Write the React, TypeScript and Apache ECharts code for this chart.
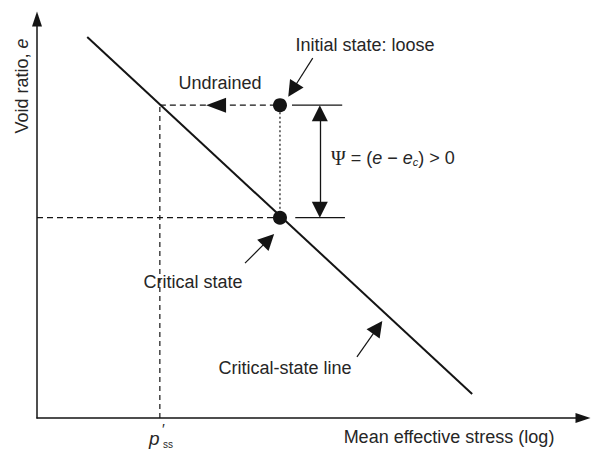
import React, { useEffect, useRef } from "react";
import * as echarts from "echarts";

// Critical-state line endpoints (x: log mean effective stress, y: void ratio), arbitrary units
const cslX = [0.92, 7.97];
const cslY = [9.55, 0.6];
// Initial state (loose) and critical state
const stateX = [4.45, 4.45];
const stateY = [7.84, 5.02];
// p'ss on the x axis
const pssX = 2.25;
// undrained arrow head position along the dashed path
const undrainedHeadX = 3.28;
// Psi double arrow
const psiX = 5.18;
// short reference ticks at the ends of the Psi arrow
const tickStartX = [4.67, 4.73];
const tickEndX = [5.59, 5.64];
// annotation pointer arrows: from -> to
const pointerFromX = [5.05, 3.81, 5.86];
const pointerFromY = [9.02, 3.88, 1.53];
const pointerToX = [4.68, 4.24, 6.24];
const pointerToY = [8.22, 4.47, 2.27];

const FONT = "Liberation Sans, Arial, sans-serif";
const TXT = "#262626";
const INK = "#141414";
const FS = 18;

export default function App() {
  const ref = useRef<HTMLDivElement>(null);
  useEffect(() => {
    if (!ref.current) return;
    const chart = echarts.init(ref.current, null, { renderer: "svg" });
    const seg = (a: number[], b: number[]) => [a, b];
    const lineSeries = (name: string, data: number[][], type: any, width: number, z = 2) => ({
      name,
      type: "line",
      data,
      showSymbol: false,
      symbol: "none",
      silent: true,
      z,
      lineStyle: { color: INK, width, type },
    });
    const option: any = {
      animation: false,
      backgroundColor: "#ffffff",
      grid: { left: 37, right: 9, top: 19, bottom: 31 },
      xAxis: {
        type: "value",
        min: 0,
        max: 10,
        axisLine: {
          show: true,
          symbol: ["none", "triangle"],
          symbolSize: [10, 15],
          lineStyle: { color: INK, width: 1.5 },
        },
        axisTick: { show: false },
        axisLabel: { show: false },
        splitLine: { show: false },
      },
      yAxis: {
        type: "value",
        min: 0,
        max: 10,
        axisLine: {
          show: true,
          symbol: ["none", "triangle"],
          symbolSize: [10, 15],
          lineStyle: { color: INK, width: 1.5 },
        },
        axisTick: { show: false },
        axisLabel: { show: false },
        splitLine: { show: false },
      },
      series: [
        lineSeries("Critical-state line", seg([cslX[0], cslY[0]], [cslX[1], cslY[1]]), "solid", 2, 3),
        lineSeries("Undrained path", seg([pssX, stateY[0]], [stateX[0], stateY[0]]), [6, 4], 1.2),
        lineSeries("p'ss drop", seg([pssX, 0], [pssX, stateY[0]]), [5, 4], 1.2),
        lineSeries("e_c level", seg([0, stateY[1]], [stateX[1], stateY[1]]), [6, 4], 1.2),
        lineSeries("state link", seg([stateX[0], stateY[1]], [stateX[0], stateY[0]]), [2, 2.5], 1.2),
        lineSeries("top tick", seg([tickStartX[0], stateY[0]], [tickEndX[0], stateY[0]]), "solid", 1.3),
        lineSeries("bottom tick", seg([tickStartX[1], stateY[1]], [tickEndX[1], stateY[1]]), "solid", 1.3),
        {
          name: "Psi",
          type: "lines",
          coordinateSystem: "cartesian2d",
          silent: true,
          symbol: ["triangle", "triangle"],
          symbolSize: 16,
          lineStyle: { color: INK, width: 1.3, opacity: 1, curveness: 0 },
          data: [{ coords: [[psiX, stateY[0] - 0.2], [psiX, stateY[1] + 0.2]] }],
        },
        {
          name: "Pointers",
          type: "lines",
          coordinateSystem: "cartesian2d",
          silent: true,
          symbol: ["none", "triangle"],
          symbolSize: 16,
          lineStyle: { color: INK, width: 1.2, opacity: 1, curveness: 0 },
          data: pointerFromX.map((x, i) => ({
            coords: [[x, pointerFromY[i]], [pointerToX[i], pointerToY[i]]],
          })),
        },
        {
          name: "Undrained head",
          type: "scatter",
          silent: true,
          symbol: "triangle",
          symbolRotate: 90,
          symbolSize: [15, 20],
          itemStyle: { color: INK, opacity: 1 },
          z: 4,
          data: [[undrainedHeadX, stateY[0]]],
        },
        {
          name: "States",
          type: "scatter",
          silent: true,
          symbolSize: 14,
          itemStyle: { color: INK, opacity: 1 },
          z: 5,
          data: stateX.map((x, i) => [x, stateY[i]]),
        },
      ],
      graphic: [
        {
          type: "text",
          x: 22,
          y: 86,
          rotation: Math.PI / 2,
          style: {
            text: "Void ratio, {i|e}",
            font: `${FS}px ${FONT}`,
            fill: TXT,
            align: "center",
            verticalAlign: "middle",
            rich: { i: { fontStyle: "italic", fontSize: FS, fontFamily: FONT, fill: TXT } },
          },
        },
        {
          type: "text",
          x: 365,
          y: 45,
          style: { text: "Initial state: loose", font: `${FS}px ${FONT}`, fill: TXT, align: "center", verticalAlign: "middle" },
        },
        {
          type: "text",
          x: 220,
          y: 83,
          style: { text: "Undrained", font: `${FS}px ${FONT}`, fill: TXT, align: "center", verticalAlign: "middle" },
        },
        {
          type: "text",
          x: 193,
          y: 282,
          style: { text: "Critical state", font: `${FS}px ${FONT}`, fill: TXT, align: "center", verticalAlign: "middle" },
        },
        {
          type: "text",
          x: 285,
          y: 368,
          style: { text: "Critical-state line", font: `${FS}px ${FONT}`, fill: TXT, align: "center", verticalAlign: "middle" },
        },
        {
          type: "text",
          x: 449,
          y: 437,
          style: { text: "Mean effective stress (log)", font: `${FS}px ${FONT}`, fill: TXT, align: "center", verticalAlign: "middle" },
        },
        {
          type: "text",
          x: 331,
          y: 158,
          style: {
            text: "{s|Ψ} = ({i|e} − {i|e}{c|c}) > 0",
            font: `${FS}px ${FONT}`,
            fill: TXT,
            align: "left",
            verticalAlign: "middle",
            rich: {
              s: { fontFamily: "Liberation Serif, serif", fontSize: 20, fill: TXT },
              i: { fontStyle: "italic", fontFamily: FONT, fontSize: FS, fill: TXT },
              c: { fontStyle: "italic", fontFamily: FONT, fontSize: 11, fill: TXT, padding: [8, 0, 0, 0] },
            },
          },
        },
        {
          type: "text",
          x: 149,
          y: 438,
          style: { text: "p", font: `italic 19px ${FONT}`, fill: TXT, align: "left", verticalAlign: "middle" },
        },
        {
          type: "text",
          x: 162,
          y: 428,
          style: { text: "′", font: `15px ${FONT}`, fill: TXT, align: "left", verticalAlign: "middle" },
        },
        {
          type: "text",
          x: 163,
          y: 444,
          style: { text: "ss", font: `10px ${FONT}`, fill: TXT, align: "left", verticalAlign: "middle" },
        },
      ],
    };
    chart.setOption(option);
    return () => chart.dispose();
  }, []);
  return (
    <div
      ref={ref}
      style={{ position: "fixed", left: 0, top: 0, width: 592, height: 449, background: "#fff" }}
    />
  );
}
